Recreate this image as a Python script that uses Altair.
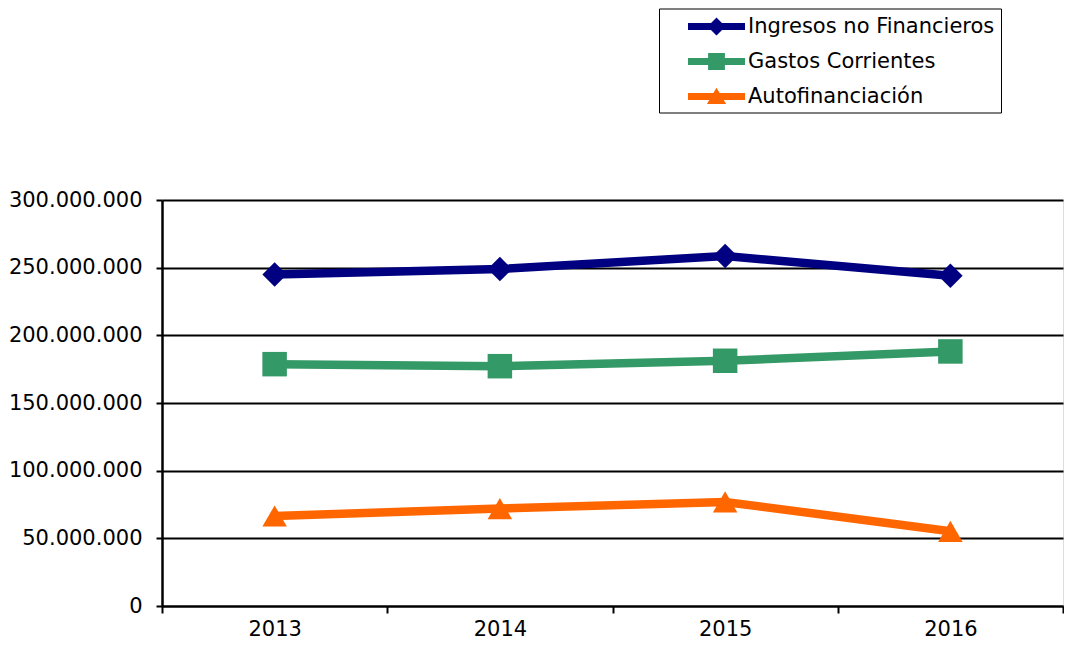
import altair as alt
import pandas as pd

# ---- data ----
years = ["2013", "2014", "2015", "2016"]
series = ["Ingresos no Financieros", "Gastos Corrientes", "Autofinanciación"]
ingresos = [245.0e6, 249.0e6, 258.6e6, 244.1e6]
gastos = [178.7e6, 177.2e6, 181.2e6, 188.1e6]
autofin = [66.5e6, 72.0e6, 76.9e6, 55.2e6]
y_ticks = [0, 50e6, 100e6, 150e6, 200e6, 250e6, 300e6]

# ---- styles ----
colors = ["#000080", "#339966", "#FF6600"]
marker_shapes = ["diamond", "square", "triangle-up"]
LINE = "M-2.375,-0.29L2.375,-0.29L2.375,0.29L-2.375,0.29Z"
legend_paths = [
    LINE + "M0,-0.75L0.75,0L0,0.75L-0.75,0Z",
    LINE + "M-0.7,-0.7L0.7,-0.7L0.7,0.7L-0.7,0.7Z",
    LINE + "M0,-0.72L0.8,0.62L-0.8,0.62Z",
]
FONT = "DejaVu Sans"

rows = []
for name, vals in zip(series, [ingresos, gastos, autofin]):
    for yr, v in zip(years, vals):
        rows.append({"year": yr, "serie": name, "valor": v})
df = pd.DataFrame(rows)

x_enc = alt.X(
    "year:O",
    sort=years,
    scale=alt.Scale(type="band", paddingInner=0, paddingOuter=0),
    axis=alt.Axis(
        title=None, labelAngle=0, tickBand="extent", grid=False,
        domainColor="black", domainWidth=2, tickColor="black", tickWidth=2,
        tickSize=7, labelFontSize=21, labelFont=FONT, labelColor="black",
        labelPadding=5,
    ),
)
y_enc = alt.Y(
    "valor:Q",
    scale=alt.Scale(domain=[0, 300e6], nice=False),
    axis=alt.Axis(
        title=None, values=y_ticks,
        labelExpr="replace(replace(format(datum.value, ','), ',', '.'), ',', '.')",
        grid=True, gridColor="black", gridWidth=2, gridOpacity=1,
        domainColor="black", domainWidth=2.5, tickColor="black", tickWidth=2,
        tickSize=6, labelPadding=14, labelFontSize=21, labelFont=FONT,
        labelColor="black",
    ),
)

base = alt.Chart(df).encode(x=x_enc, y=y_enc)

lines = base.mark_line(strokeWidth=8.5).encode(
    color=alt.Color("serie:N", scale=alt.Scale(domain=series, range=colors), legend=None),
    detail="serie:N",
)

points = base.mark_point(filled=True, size=600, opacity=1, strokeWidth=0).encode(
    color=alt.Color("serie:N", scale=alt.Scale(domain=series, range=colors), legend=None),
    shape=alt.Shape("serie:N", scale=alt.Scale(domain=series, range=marker_shapes), legend=None),
)

leg = alt.Legend(
    title=None, orient="none", legendX=497, legendY=-191.5, direction="vertical",
    symbolSize=576, symbolStrokeWidth=0, symbolOffset=39.5, labelOffset=19.5,
    labelFontSize=21, labelFont=FONT, labelColor="black", labelLimit=500,
    rowPadding=13, padding=6, strokeColor="black", fillColor="white",
)

legend_layer = base.transform_filter("datum.valor < 0").mark_point(
    filled=True, opacity=1, strokeWidth=0
).encode(
    color=alt.Color("serie:N", scale=alt.Scale(domain=series, range=colors), legend=leg),
    shape=alt.Shape("serie:N", scale=alt.Scale(domain=series, range=legend_paths), legend=leg),
)

chart = (
    alt.layer(lines, points, legend_layer)
    .resolve_scale(color="independent", shape="independent")
    .properties(width=901, height=406, padding=0)
    .configure_view(stroke=None)
    .configure_legend(strokeWidth=2)
    .configure(font=FONT)
)

chart.save("out.html", embed_options={"renderer": "svg", "actions": False})
